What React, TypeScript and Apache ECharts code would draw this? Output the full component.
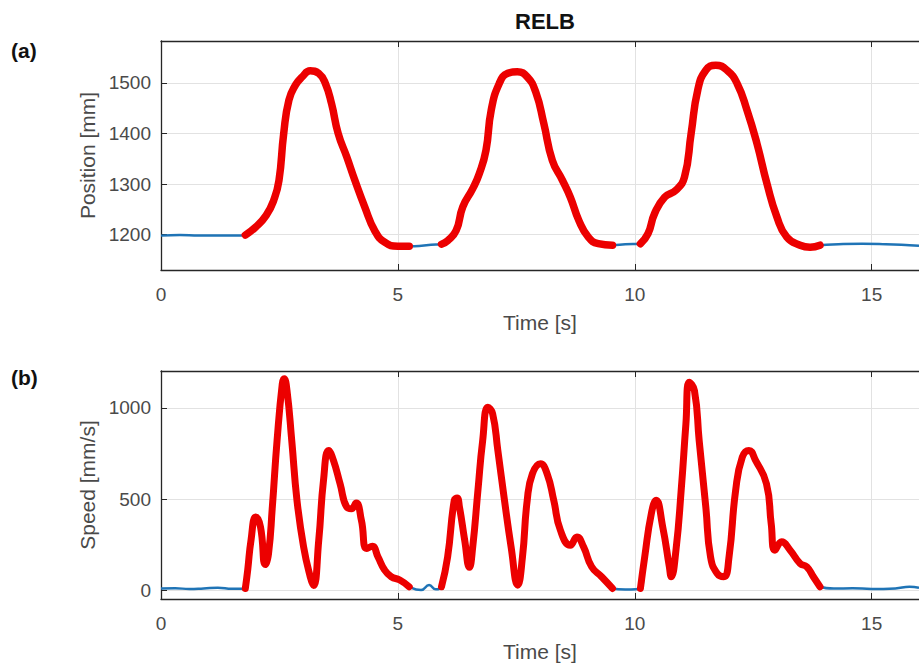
import { useEffect, useRef } from "react";
import * as echarts from "echarts";

// Elbow marker (RELB) trajectory, sampled in seconds.
const posTime = [
  0, 0.4, 0.8, 1.2, 1.6, 1.78, 2.0, 2.22, 2.38, 2.49, 2.59, 2.7, 2.84, 2.98, 3.15, 3.33, 3.47, 3.6, 3.74,
  3.92, 4.09, 4.3, 4.51, 4.72, 5.0, 5.24, 5.5, 5.7, 5.92, 6.05, 6.23, 6.37, 6.58, 6.72, 6.86, 6.97, 7.14,
  7.32, 7.52, 7.73, 7.91, 8.08, 8.26, 8.47, 8.64, 8.82, 9.02, 9.23, 9.53, 9.8, 10.12, 10.28, 10.42, 10.63,
  10.87, 11.05, 11.19, 11.33, 11.5, 11.71, 11.95, 12.16, 12.37, 12.58, 12.79, 13.0, 13.21, 13.49, 13.7,
  13.91, 14.3, 14.8, 15.3, 15.8, 16,
];
const posValue = [
  1198, 1199, 1198, 1198, 1198, 1199, 1215, 1238, 1268, 1307, 1400, 1466, 1496, 1512, 1524, 1519, 1499,
  1459, 1400, 1354, 1308, 1255, 1208, 1185, 1177, 1177, 1178, 1180, 1181, 1188, 1208, 1255, 1291, 1321,
  1367, 1446, 1499, 1519, 1522, 1512, 1482, 1420, 1347, 1308, 1274, 1228, 1195, 1182, 1179, 1181, 1182,
  1202, 1242, 1274, 1288, 1314, 1400, 1486, 1525, 1535, 1525, 1499, 1446, 1380, 1301, 1235, 1195, 1179,
  1175, 1179, 1181, 1182, 1181, 1179, 1178,
];

const speedTime = [
  0, 0.3, 0.6, 0.9, 1.2, 1.5, 1.78, 1.83, 1.9, 2.0, 2.1, 2.2, 2.27, 2.35, 2.45, 2.56, 2.6, 2.66, 2.76, 2.87,
  3.01, 3.15, 3.22, 3.33, 3.43, 3.54, 3.64, 3.78, 3.92, 4.02, 4.12, 4.23, 4.34, 4.46, 4.58, 4.72, 4.86,
  5.04, 5.24, 5.49, 5.66, 5.8, 5.92, 6.05, 6.19, 6.25, 6.3, 6.41, 6.51, 6.58, 6.69, 6.79, 6.9, 7.0, 7.11,
  7.25, 7.39, 7.53, 7.63, 7.73, 7.84, 8.01, 8.15, 8.29, 8.43, 8.64, 8.78, 8.92, 9.09, 9.3, 9.53, 9.8,
  10.12, 10.21, 10.35, 10.45, 10.59, 10.73, 10.77, 10.87, 10.98, 11.08, 11.15, 11.26, 11.36, 11.5, 11.6,
  11.74, 11.88, 11.99, 12.13, 12.27, 12.41, 12.55, 12.78, 12.88, 12.96, 13.1, 13.28, 13.49, 13.63, 13.77,
  13.91, 14.2, 14.6, 15.0, 15.5, 15.8, 16,
];
const speedValue = [
  8, 10, 6, 9, 13, 7, 9, 110, 274, 401, 347, 140, 201, 456, 821, 1132, 1160, 1095, 821, 493, 237, 73, 25,
  274, 602, 767, 712, 584, 456, 447, 478, 383, 228, 240, 182, 110, 73, 55, 18, 0, 28, 4, 18, 182, 493, 505,
  456, 274, 125, 237, 548, 821, 1004, 968, 767, 493, 237, 27, 182, 493, 639, 694, 639, 493, 329, 246, 292,
  237, 128, 73, 9, 3, 9, 182, 420, 493, 347, 128, 73, 219, 548, 913, 1141, 1095, 821, 456, 182, 91, 73, 182,
  548, 730, 767, 712, 584, 365, 219, 265, 219, 146, 128, 73, 18, 8, 10, 6, 9, 18, 12,
];

// Movement phases highlighted in red.
const moveStart = [1.78, 5.92, 10.12];
const moveEnd = [5.24, 9.53, 13.91];

const panelTags = ["(a)", "(b)"];
const titleText = "RELB";
const xName = "Time [s]";
const yNames = ["Position [mm]", "Speed [mm/s]"];

const FONT = "'Liberation Sans', Arial, Helvetica, sans-serif";
const AXIS = "#262626";
const TEXT = "#4a4a4a";
const GRIDC = "#e2e2e2";
const BLUE = "#1f74b6";
const RED = "#ec0000";

function pairs(ts: number[], vs: number[]) {
  return ts.map((t, i) => [t, vs[i]]);
}

function windowPairs(ts: number[], vs: number[], a: number, b: number) {
  const out: number[][] = [];
  ts.forEach((t, i) => {
    if (t >= a - 1e-9 && t <= b + 1e-9) out.push([t, vs[i]]);
  });
  return out;
}

const plain = (v: number) => String(Math.round(v));

export default function App() {
  const ref = useRef<HTMLDivElement>(null);

  useEffect(() => {
    if (!ref.current) return;
    const chart = echarts.init(ref.current, undefined, { renderer: "svg" });

    const grids = [
      { left: 161, top: 41, width: 765, height: 229 },
      { left: 161, top: 371, width: 765, height: 228 },
    ];

    const bottomX = (gridIndex: number) => ({
      type: "value",
      gridIndex,
      position: "bottom",
      min: 0,
      max: 16,
      interval: 5,
      axisLine: { show: true, onZero: false, lineStyle: { color: AXIS, width: 1.3 } },
      axisTick: { show: true, inside: true, length: 6, lineStyle: { color: AXIS, width: 1 } },
      axisLabel: {
        show: true,
        color: TEXT,
        fontSize: 19,
        fontFamily: FONT,
        margin: 15,
        showMaxLabel: false,
        formatter: plain,
      },
      splitLine: { show: true, lineStyle: { color: GRIDC, width: 1 } },
      name: xName,
      nameLocation: "middle",
      nameGap: 42,
      nameTextStyle: { color: TEXT, fontSize: 21, fontFamily: FONT },
    });

    const topX = (gridIndex: number) => ({
      type: "value",
      gridIndex,
      position: "top",
      min: 0,
      max: 16,
      interval: 5,
      axisLine: { show: true, onZero: false, lineStyle: { color: AXIS, width: 1.3 } },
      axisTick: { show: true, inside: true, length: 6, lineStyle: { color: AXIS, width: 1 } },
      axisLabel: { show: false },
      splitLine: { show: false },
    });

    const leftY = (gridIndex: number, min: number, max: number, splitNumber: number, name: string) => ({
      type: "value",
      gridIndex,
      position: "left",
      min,
      max,
      splitNumber,
      axisLine: { show: true, onZero: false, lineStyle: { color: AXIS, width: 1.3 } },
      axisTick: { show: true, inside: true, length: 6, lineStyle: { color: AXIS, width: 1 } },
      axisLabel: {
        show: true,
        color: TEXT,
        fontSize: 19,
        fontFamily: FONT,
        margin: 10,
        showMinLabel: false,
        showMaxLabel: false,
        formatter: plain,
      },
      splitLine: { show: true, lineStyle: { color: GRIDC, width: 1 } },
      name,
      nameLocation: "middle",
      nameGap: 60,
      nameTextStyle: { color: TEXT, fontSize: 21, fontFamily: FONT },
    });

    const redSeries = (xi: number, yi: number, ts: number[], vs: number[], width: number) =>
      moveStart.map((a, k) => ({
        type: "line",
        xAxisIndex: xi,
        yAxisIndex: yi,
        data: windowPairs(ts, vs, a, moveEnd[k]),
        showSymbol: false,
        smooth: 0.5,
        lineStyle: { color: RED, width, cap: "round", join: "round" },
        z: 3,
      }));

    chart.setOption({
      animation: false,
      backgroundColor: "#ffffff",
      grid: grids,
      xAxis: [bottomX(0), topX(0), bottomX(1), topX(1)],
      yAxis: [leftY(0, 1130, 1583, 5, yNames[0]), leftY(1, -49, 1203, 2, yNames[1])],
      series: [
        {
          type: "line",
          xAxisIndex: 0,
          yAxisIndex: 0,
          data: pairs(posTime, posValue),
          showSymbol: false,
          smooth: 0.5,
          lineStyle: { color: BLUE, width: 2.5 },
          z: 2,
        },
        ...redSeries(0, 0, posTime, posValue, 7.5),
        {
          type: "line",
          xAxisIndex: 2,
          yAxisIndex: 1,
          data: pairs(speedTime, speedValue),
          showSymbol: false,
          smooth: 0.5,
          lineStyle: { color: BLUE, width: 2.5 },
          z: 2,
        },
        ...redSeries(2, 1, speedTime, speedValue, 7),
      ],
      graphic: [
        {
          type: "text",
          left: 515,
          top: 10,
          style: { text: titleText, fill: "#111111", font: `bold 22px ${FONT}` },
        },
        {
          type: "text",
          left: 11,
          top: 40,
          style: { text: panelTags[0], fill: "#111111", font: `bold 21px ${FONT}` },
        },
        {
          type: "text",
          left: 11,
          top: 367,
          style: { text: panelTags[1], fill: "#111111", font: `bold 21px ${FONT}` },
        },
      ],
    });

    return () => chart.dispose();
  }, []);

  return (
    <div
      ref={ref}
      style={{ position: "absolute", left: 0, top: 0, width: 919, height: 666, background: "#fff" }}
    />
  );
}
